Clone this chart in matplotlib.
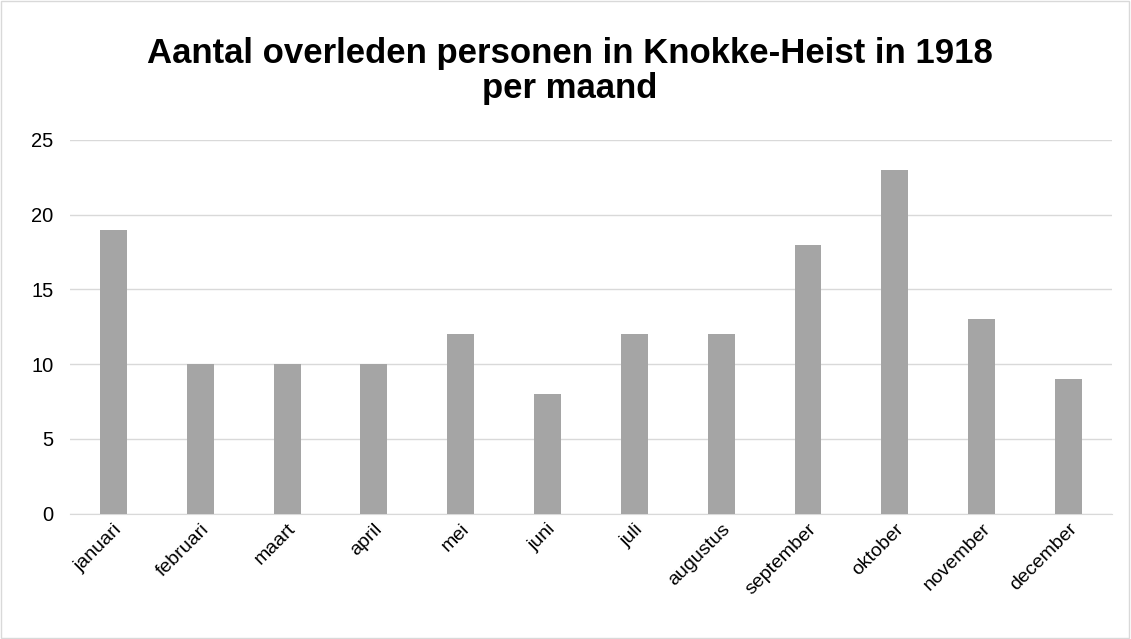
import matplotlib.pyplot as plt
from matplotlib.patches import Rectangle

maanden = ['januari', 'februari', 'maart', 'april', 'mei', 'juni', 'juli',
           'augustus', 'september', 'oktober', 'november', 'december']
overleden = [19, 10, 10, 10, 12, 8, 12, 12, 18, 23, 13, 9]
y_ticks = [0, 5, 10, 15, 20, 25]

plt.rcParams['font.family'] = ['Liberation Sans', 'DejaVu Sans']

fig = plt.figure(figsize=(11.31, 6.39), dpi=100)
ax = fig.add_axes([0.062, 0.196, 0.921, 0.585])

x = range(len(maanden))
ax.bar(x, overleden, width=0.31, color='#a5a5a5', zorder=3)

ax.set_xlim(-0.5, len(maanden) - 0.5)
ax.set_ylim(0, 25)
ax.set_yticks(y_ticks)
ax.set_yticklabels([str(v) for v in y_ticks], fontsize=14.5)
ax.set_xticks(list(x))
ax.set_xticklabels(maanden, rotation=45, ha='right', rotation_mode='anchor', fontsize=14)
ax.tick_params(axis='y', length=0, pad=12, colors='black')
ax.tick_params(axis='x', length=0, pad=5, colors='black')
ax.grid(axis='y', color='#d9d9d9', linewidth=1, zorder=0)

for side in ['top', 'right', 'left']:
    ax.spines[side].set_visible(False)
ax.spines['bottom'].set_color('#d9d9d9')

fig.text(0.504, 0.889, 'Aantal overleden personen in Knokke-Heist in 1918\nper maand',
         ha='center', va='center', fontsize=25, fontweight='bold', linespacing=1.07)

# rand rond de figuur
fig.patches.append(Rectangle((0.001, 0.001), 0.997, 0.997, transform=fig.transFigure,
                             fill=False, edgecolor='#d9d9d9', linewidth=1))

fig.savefig('out.png', dpi=100)
